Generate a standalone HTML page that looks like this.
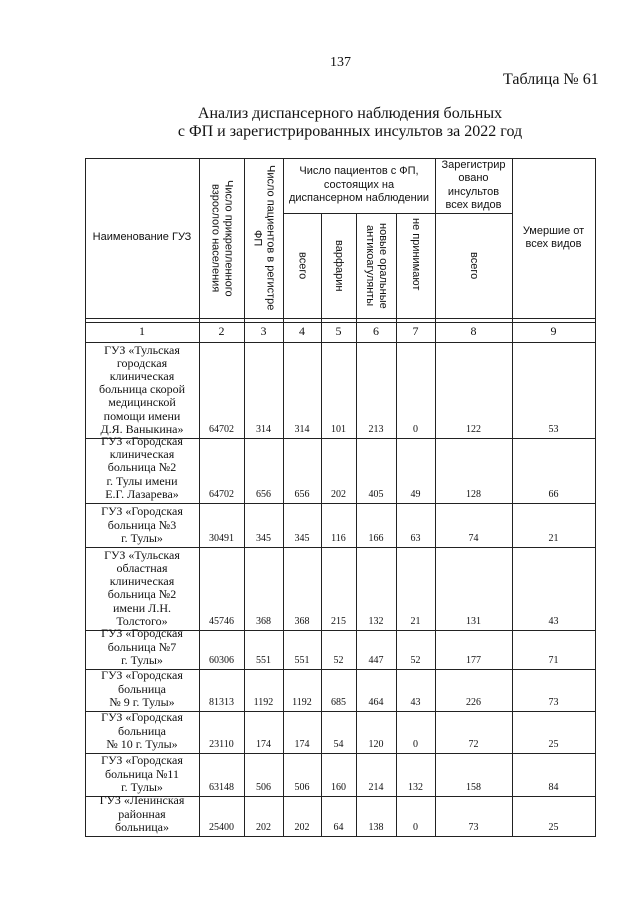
<!DOCTYPE html>
<html><head><meta charset="utf-8"><style>
body{margin:0;width:640px;height:904px;background:#fff;position:relative;overflow:hidden;font-family:"Liberation Serif","Noto Serif CJK SC",serif;color:#111}
.a{position:absolute}
.h{position:absolute;height:1px;background:#222}
.v{position:absolute;width:1px;background:#222}
.c{position:absolute;display:flex;align-items:flex-end;justify-content:center;text-align:center;box-sizing:border-box}
.n{font-size:12px;line-height:13.2px;padding-bottom:2px}
.num{font-size:10px;padding-bottom:3px}
.s{font-family:"Liberation Sans",sans-serif;font-size:11px;line-height:13.5px}
.vt{writing-mode:vertical-rl;font-family:"Liberation Sans",sans-serif;font-size:11px;line-height:13px;text-align:center}
</style></head><body>
<div class="a" style="left:330px;top:55px;font-size:14px">137</div>
<div class="a" style="left:503px;top:71px;font-size:16px">Таблица № 61</div>
<div class="a" style="left:150px;width:400px;top:105px;font-size:16px;line-height:18px;text-align:center">Анализ диспансерного наблюдения больных<br>с ФП и зарегистрированных инсультов за 2022 год</div>

<div class="h" style="left:85px;width:511px;top:158px"></div>
<div class="h" style="left:283px;width:229px;top:213px"></div>
<div class="h" style="left:85px;width:511px;top:318px"></div>
<div class="h" style="left:85px;width:511px;top:322px"></div>
<div class="h" style="left:85px;width:511px;top:342px"></div>
<div class="h" style="left:85px;width:511px;top:438px"></div>
<div class="h" style="left:85px;width:511px;top:503px"></div>
<div class="h" style="left:85px;width:511px;top:547px"></div>
<div class="h" style="left:85px;width:511px;top:630px"></div>
<div class="h" style="left:85px;width:511px;top:669px"></div>
<div class="h" style="left:85px;width:511px;top:711px"></div>
<div class="h" style="left:85px;width:511px;top:753px"></div>
<div class="h" style="left:85px;width:511px;top:796px"></div>
<div class="h" style="left:85px;width:511px;top:836px"></div>
<div class="v" style="left:85px;top:158px;height:679px"></div>
<div class="v" style="left:199px;top:158px;height:679px"></div>
<div class="v" style="left:244px;top:158px;height:679px"></div>
<div class="v" style="left:283px;top:158px;height:679px"></div>
<div class="v" style="left:321px;top:213px;height:624px"></div>
<div class="v" style="left:356px;top:213px;height:624px"></div>
<div class="v" style="left:396px;top:213px;height:624px"></div>
<div class="v" style="left:435px;top:158px;height:679px"></div>
<div class="v" style="left:512px;top:158px;height:679px"></div>
<div class="v" style="left:595px;top:158px;height:679px"></div>

<div class="c s" style="left:85px;width:114px;top:158px;height:160px;align-items:center">Наименование ГУЗ</div>
<div class="c" style="left:199px;width:45px;top:163px;height:150px;align-items:flex-start"><div class="vt">Число прикрепленного взрослого населения</div></div>
<div class="c" style="left:244px;width:39px;top:163px;height:150px;align-items:flex-start"><div class="vt">Число пациентов в регистре ФП</div></div>
<div class="c s" style="left:283px;width:152px;top:158px;height:55px;align-items:center">Число пациентов с ФП,<br>состоящих на<br>диспансерном наблюдении</div>
<div class="c s" style="left:435px;width:77px;top:158px;height:55px;align-items:center">Зарегистрир<br>овано<br>инсультов<br>всех видов</div>
<div class="c s" style="left:512px;width:83px;top:158px;height:160px;align-items:center">Умершие от<br>всех видов</div>
<div class="c" style="left:283px;width:38px;top:213px;height:105px;align-items:center"><div class="vt">всего</div></div>
<div class="c" style="left:321px;width:35px;top:213px;height:105px;align-items:center"><div class="vt">варфарин</div></div>
<div class="c" style="left:356px;width:40px;top:218px;height:95px;align-items:flex-start"><div class="vt">новые оральные антикоагулянты</div></div>
<div class="c" style="left:396px;width:39px;top:218px;height:95px;align-items:flex-start"><div class="vt">не принимают</div></div>
<div class="c" style="left:435px;width:77px;top:213px;height:105px;align-items:center"><div class="vt">всего</div></div>

<div class="c n" style="left:85px;width:114px;top:322px;height:20px;align-items:center;padding:0">1</div>
<div class="c n" style="left:199px;width:45px;top:322px;height:20px;align-items:center;padding:0">2</div>
<div class="c n" style="left:244px;width:39px;top:322px;height:20px;align-items:center;padding:0">3</div>
<div class="c n" style="left:283px;width:38px;top:322px;height:20px;align-items:center;padding:0">4</div>
<div class="c n" style="left:321px;width:35px;top:322px;height:20px;align-items:center;padding:0">5</div>
<div class="c n" style="left:356px;width:40px;top:322px;height:20px;align-items:center;padding:0">6</div>
<div class="c n" style="left:396px;width:39px;top:322px;height:20px;align-items:center;padding:0">7</div>
<div class="c n" style="left:435px;width:77px;top:322px;height:20px;align-items:center;padding:0">8</div>
<div class="c n" style="left:512px;width:83px;top:322px;height:20px;align-items:center;padding:0">9</div>

<div id="rows"></div>
<script>
const rows=[
[342,438,"ГУЗ «Тульская<br>городская<br>клиническая<br>больница скорой<br>медицинской<br>помощи имени<br>Д.Я. Ваныкина»",["64702","314","314","101","213","0","122","53"]],
[438,503,"ГУЗ «Городская<br>клиническая<br>больница №2<br>г. Тулы имени<br>Е.Г. Лазарева»",["64702","656","656","202","405","49","128","66"]],
[503,547,"ГУЗ «Городская<br>больница №3<br>г. Тулы»",["30491","345","345","116","166","63","74","21"]],
[547,630,"ГУЗ «Тульская<br>областная<br>клиническая<br>больница №2<br>имени Л.Н.<br>Толстого»",["45746","368","368","215","132","21","131","43"]],
[630,669,"ГУЗ «Городская<br>больница №7<br>г. Тулы»",["60306","551","551","52","447","52","177","71"]],
[669,711,"ГУЗ «Городская<br>больница<br>№ 9 г. Тулы»",["81313","1192","1192","685","464","43","226","73"]],
[711,753,"ГУЗ «Городская<br>больница<br>№ 10 г. Тулы»",["23110","174","174","54","120","0","72","25"]],
[753,796,"ГУЗ «Городская<br>больница №11<br>г. Тулы»",["63148","506","506","160","214","132","158","84"]],
[796,836,"ГУЗ «Ленинская<br>районная<br>больница»",["25400","202","202","64","138","0","73","25"]]];
const cols=[[199,45],[244,39],[283,38],[321,35],[356,40],[396,39],[435,77],[512,83]];
let h="";
for(const [t,b,name,v] of rows){
h+=`<div class="c n" style="left:85px;width:114px;top:${t}px;height:${b-t}px">${name}</div>`;
v.forEach((x,i)=>{h+=`<div class="c num" style="left:${cols[i][0]}px;width:${cols[i][1]}px;top:${t}px;height:${b-t}px">${x}</div>`;});
}
document.getElementById("rows").innerHTML=h;
</script>
</body></html>
